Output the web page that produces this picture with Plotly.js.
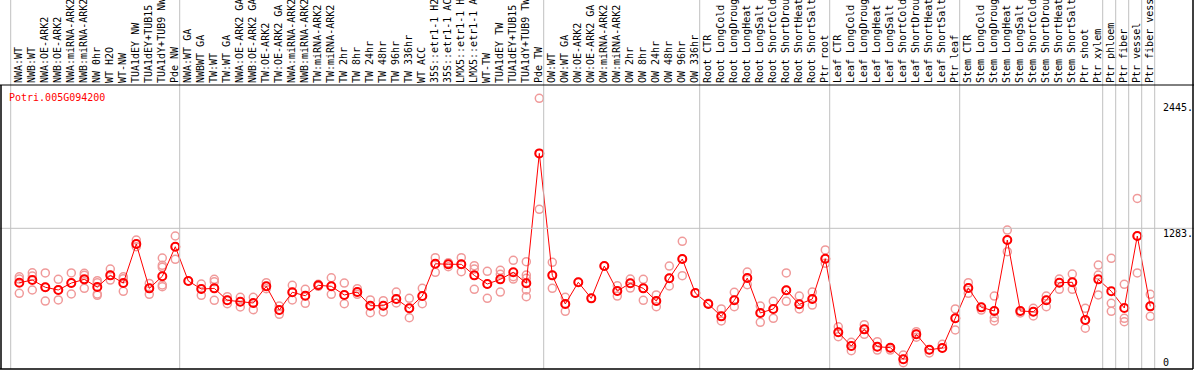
<!DOCTYPE html>
<html>
<head>
<meta charset="utf-8">
<script src="https://cdn.plot.ly/plotly-3.0.1.min.js"></script>
<style>html,body{margin:0;padding:0;background:#fff;overflow:hidden}#chart{width:1194px;height:370px}</style>
</head>
<body>
<div id="chart"></div>
<script>
const geneTitle = "Potri.005G094200";
const categories = [
"NWA:WT","NWB:WT","NWA:OE-ARK2","NWB:OE-ARK2","NWA:miRNA-ARK2","NWB:miRNA-ARK2","NW 0hr","WT H2O","WT-NW","TUA1dEY NW","TUA1dEY+TUB15","TUA1dY+TUB9 NW","Pde NW",
"NWA:WT GA","NWBWT GA","TW:WT","TW:WT GA","NWA:OE-ARK2 GA","NWB:OE-ARK2 GA","TW:OE-ARK2","TW:OE-ARK2 GA","NWA:miRNA-ARK2","NWB:miRNA-ARK2","TW:miRNA-ARK2","TW:miRNA-ARK2","TW 2hr","TW 8hr","TW 24hr","TW 48hr","TW 96hr","TW 336hr","WT ACC","35S::etr1-1 H2","35S::etr1-1 AC","LMX5::etr1-1 H","LMX5::etr1-1 A","WT-TW","TUA1dEY TW","TUA1dEY+TUB15","TUA1dY+TUB9 TW","Pde TW",
"OW:WT","OW:WT GA","OW:OE-ARK2","OW:OE-ARK2 GA","OW:miRNA-ARK2","OW:miRNA-ARK2","OW 2hr","OW 8hr","OW 24hr","OW 48hr","OW 96hr","OW 336hr",
"Root CTR","Root LongCold","Root LongDroug","Root LongHeat","Root LongSalt","Root ShortCold","Root ShortDrou","Root ShortHeat","Root ShortSalt","Ptr root",
"Leaf CTR","Leaf LongCold","Leaf LongDroug","Leaf LongHeat","Leaf LongSalt","Leaf ShortCold","Leaf ShortDrou","Leaf ShortHeat","Leaf ShortSalt","Ptr leaf",
"Stem CTR","Stem LongCold","Stem LongDroug","Stem LongHeat","Stem LongSalt","Stem ShortCold","Stem ShortDrou","Stem ShortHeat","Stem ShortSalt","Ptr shoot","Ptr xylem",
"Ptr phloem","Ptr fiber","Ptr vessel","Ptr fiber vess"
];
const groupSizes = [13, 28, 12, 10, 10, 11, 1, 1, 1, 1];
const meanValues = [
781,806,739,714,778,812,741,849,778,1138,729,840,1113,
797,723,729,619,606,594,748,529,693,661,757,748,668,695,569,569,631,545,658,956,951,951,849,769,812,877,776,1974,
849,585,785,637,935,705,776,729,612,822,1000,686,
585,471,619,824,502,539,711,582,631,1002,
324,197,351,191,182,75,305,163,179,453,
732,554,520,1175,520,514,619,781,785,437,812,
702,548,1212,563
];
const replicateValues = [
[836,815,683],[873,843,714],[871,739,612],[812,714,622],[871,778,677],[868,849,729],[800,781,677,665],[907,849,806],[836,818,702],[1175,1138,1113],[775,729,674],[1009,942,923,760,744],[1212,1113,997],
[797],[769,723,665],[812,790,619],[652,619,587],[646,606,557],[646,594,532],[781,748,726],[566,529,490],[757,693,622],[720,661,591],[766,757,748],[827,748,674],[778,668,587],[726,695,674],[622,569,504],[615,569,511],[695,631,594],[637,545,458],[729,658,587],[1012,956,877],[966,951,929],[1012,951,883],[938,907,720],[886,769,637],[895,859,695],[988,836,815],[975,852,822,714,652],[2482,1974,1458],
[969,849,729],[646,585,517],[785],[637],[935],[753,705,658],[815,776,732],[812,729,619],[668,612,560],[935,822,751],[1163,1000,846],[686],
[591,585],[539,471,428],[693,619,560],[880,824,763],[566,502,416],[610,539,453],[871,711,610],[658,582,539],[695,631,575],[1083,1002,960],
[375,324,283],[231,197,154],[394,351,305],[237,191,160],[182,160],[114,75,43],[329,305,278],[163,133],[213,179],[539,453,345],
[781,732,683],[554,529],[658,520,458,428],[1267,1175,1067],[520,502],[545,514,474],[658,619,560],[815,781,720],[861,785,720],[545,437,361],[944,852,668],
[1006,591,517],[766,453,421],[1559,1212,871],[674,563,471]
];
const yTickVals = [0, 1283, 2445];
const yTickText = ["0", "1283.", "2445."];

// ---- layout geometry (pixels) ----
const W = 1194, H = 370;
const plotL = 1, plotR = 1193, plotT = 85, plotB = 369;
const pw = plotR - plotL, ph = plotB - plotT;
const step = 13, firstCenter = 19.3;
const xr0 = (plotL - firstCenter) / step;
const xr1 = xr0 + pw / step;
const yZeroPx = 367.4, yPerPx = 1283 / (yZeroPx - 228.3);
const yr0 = (yZeroPx - plotB) * yPerPx;
const yr1 = (yZeroPx - plotT) * yPerPx;
const px2paperX = p => (p - plotL) / pw;
const px2paperY = p => (plotB - p) / ph;
const sepOffset = (firstCenter - 10.7) / step; // separator sits left of cell centre
const labelShift = 1 / step;

const xIdx = categories.map((_, i) => i);
const repX = [], repY = [];
replicateValues.forEach((arr, i) => arr.forEach(v => { repX.push(i); repY.push(v); }));

const traces = [
  {x: repX, y: repY, type: 'scatter', mode: 'markers', hoverinfo: 'skip',
   marker: {symbol: 'circle-open', size: 8, color: '#f09a9a', line: {width: 1.5, color: '#f09a9a'}}},
  {x: xIdx, y: meanValues, type: 'scatter', mode: 'lines+markers',
   line: {color: '#ff0000', width: 1},
   marker: {symbol: 'circle-open', size: 8, color: '#ff0000', line: {width: 2, color: '#ff0000'}}},
  {x: xIdx, y: meanValues.map(() => null), xaxis: 'x2', type: 'scatter', mode: 'markers', hoverinfo: 'skip', showlegend: false}
];

const shapes = [];
let b = 0;
const bounds = [0];
groupSizes.forEach(s => { b += s; bounds.push(b); });
bounds.forEach(k => {
  shapes.push({type: 'line', xref: 'x', yref: 'paper', x0: k - sepOffset, x1: k - sepOffset,
    y0: 0, y1: px2paperY(0), line: {color: '#c0c0c0', width: 1}});
});
shapes.push({type: 'line', xref: 'paper', yref: 'y', x0: px2paperX(0), x1: px2paperX(W),
  y0: yTickVals[1], y1: yTickVals[1], line: {color: '#c0c0c0', width: 1}});
shapes.push({type: 'line', xref: 'paper', yref: 'paper', x0: px2paperX(0), x1: px2paperX(W), y0: 1, y1: 1, line: {color: '#000', width: 1}});
shapes.push({type: 'line', xref: 'paper', yref: 'paper', x0: px2paperX(0), x1: 1, y0: 0, y1: 0, line: {color: '#000', width: 1.5}});
shapes.push({type: 'line', xref: 'paper', yref: 'paper', x0: 0, x1: 0, y0: 0, y1: 1, line: {color: '#000', width: 1.5}});
shapes.push({type: 'line', xref: 'paper', yref: 'paper', x0: 1, x1: 1, y0: 0, y1: px2paperY(0), line: {color: '#000', width: 1.5}});

const mono = 'DejaVu Sans Mono, Liberation Mono, monospace';
const annotations = [
  {text: geneTitle, xref: 'paper', yref: 'paper', x: px2paperX(7), y: px2paperY(90),
   xanchor: 'left', yanchor: 'top', showarrow: false, font: {family: mono, size: 10, color: '#ff0000'}}
];
yTickVals.forEach((v, i) => {
  annotations.push({text: yTickText[i], xref: 'paper', yref: 'y', x: px2paperX(1161), y: v,
    xanchor: 'left', yanchor: v === 0 ? 'bottom' : 'top', yshift: v === 0 ? -3 : 2,
    showarrow: false, font: {family: mono, size: 10, color: '#000'}});
});

const layout = {
  width: W, height: H, showlegend: false,
  margin: {l: plotL, r: W - plotR, t: plotT, b: H - plotB, pad: 0},
  paper_bgcolor: '#fff', plot_bgcolor: '#fff',
  xaxis: {range: [xr0, xr1], showgrid: false, zeroline: false, showticklabels: false, ticks: '', showline: false, fixedrange: true},
  xaxis2: {range: [xr0 + labelShift, xr1 + labelShift], overlaying: 'x', side: 'top', anchor: 'y',
    tickmode: 'array', tickvals: xIdx, ticktext: categories, tickangle: -90, ticks: '',
    ticklabelstandoff: 1, showgrid: false, zeroline: false, showline: false,
    tickfont: {family: mono, size: 10, color: '#000'}},
  yaxis: {range: [yr0, yr1], showgrid: false, zeroline: false, showticklabels: false, ticks: '', showline: false},
  shapes: shapes, annotations: annotations
};
Plotly.newPlot('chart', traces, layout, {staticPlot: true, displayModeBar: false});
</script>
</body>
</html>
